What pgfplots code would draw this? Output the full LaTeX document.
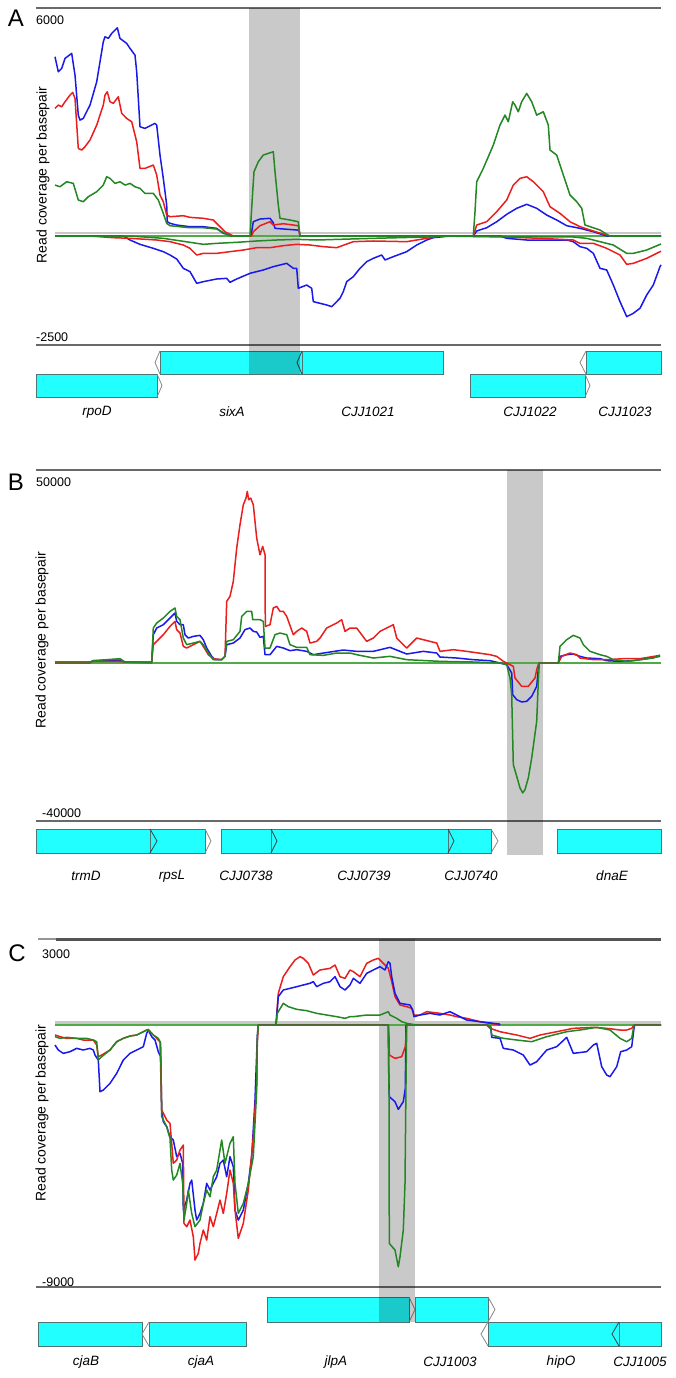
\documentclass[border=0pt]{standalone}
\usepackage{fontspec}
\setmainfont{Liberation Sans}
\usepackage{pgfplots}
\pgfplotsset{compat=1.18}

\definecolor{cblue}{RGB}{25,25,235}
\definecolor{cred}{RGB}{235,30,30}
\definecolor{cgreen}{RGB}{35,135,35}
\definecolor{cbase}{RGB}{80,170,70}
\definecolor{genefill}{RGB}{34,255,255}
\definecolor{geneline}{RGB}{80,115,115}
\definecolor{chevgray}{RGB}{135,135,135}
\definecolor{framegray}{RGB}{105,105,105}
\definecolor{zerogray}{RGB}{200,200,200}

\pgfplotsset{
  base/.style={scale only axis, width=625pt, xmin=36, xmax=661, hide axis, clip=false, anchor=north west},
  trk/.style={base, y dir=reverse},
  gene/.style={fill=genefill, draw=geneline, line width=0.8pt},
  chev/.style={draw=chevgray, line width=0.8pt},
  chevd/.style={draw=geneline!60!black, line width=0.8pt},
  band/.style={fill=black, fill opacity=0.21, draw=none},
  frame/.style={draw=framegray, line width=2.4pt},
  zline/.style={draw=zerogray, line width=2.6pt},
  bline/.style={draw=cbase, line width=1.5pt},
  sb/.style={cblue, line width=1.5pt, line join=round},
  sr/.style={cred, line width=1.5pt, line join=round},
  sg/.style={cgreen, line width=1.5pt, line join=round},
}

\newcommand{\numlab}{\fontsize{12.5}{14}\selectfont}
\newcommand{\genelab}{\fontsize{13.5}{15}\selectfont\itshape}
\newcommand{\ylab}{\fontsize{14}{16}\selectfont}
\newcommand{\panlab}{\fontsize{24}{27}\selectfont}

\begin{document}
\begin{tikzpicture}[x=1pt,y=1pt]
\path[use as bounding box, fill=white] (0pt,0pt) rectangle (675pt,-1378pt);

% ---------------- panel A : track ----------------
\begin{axis}[trk, at={(36pt,-8pt)}, height=390pt, ymin=8, ymax=398]
\addplot[frame] coordinates {(36,8) (661,8)};
\addplot[frame] coordinates {(36,345) (661,345)};
\addplot[gene] coordinates {(36,374) (157,374) (157,397) (36,397)} -- cycle;
\addplot[chev] coordinates {(157,374) (162,385.5) (157,397)};
\addplot[gene] coordinates {(160,351) (302,351) (302,374) (160,374)} -- cycle;
\addplot[chev] coordinates {(160,351) (155,362.5) (160,374)};
\addplot[gene] coordinates {(302,351) (443,351) (443,374) (302,374)} -- cycle;
\addplot[chevd] coordinates {(302,351) (297,362.5) (302,374)};
\addplot[gene] coordinates {(470,374) (585,374) (585,397) (470,397)} -- cycle;
\addplot[chev] coordinates {(585,374) (590,385.5) (585,397)};
\addplot[gene] coordinates {(586,351) (661,351) (661,374) (586,374)} -- cycle;
\addplot[chev] coordinates {(586,351) (580,362.5) (586,374)};
\addplot[band] coordinates {(249,8) (300,8) (300,374) (249,374)} -- cycle;
\end{axis}

% ---------------- panel A : coverage ----------------
\begin{axis}[base, at={(36pt,-8pt)}, height=337pt, ymin=-2868, ymax=6000]
\addplot[zline] coordinates {(55,80) (661,80)};
\addplot[bline] coordinates {(55,0) (661,0)};
% minus strand
\addplot[sb] coordinates {(55,0) (123.3,0) (130,-105) (140,-219) (153.3,-324) (163.3,-412) (170,-500) (176.7,-605) (183.3,-850) (190,-938) (196.7,-1245) (203.3,-1201) (216.7,-1131) (226.7,-1114) (230,-1218) (236.7,-1131) (250,-982) (263.3,-894) (273.3,-806) (286.7,-719) (293.3,-850) (296.7,-850) (298.3,-1376) (306.7,-1289) (311.7,-1376) (313.3,-1727) (320,-1771) (326.7,-1815) (331.7,-1858) (340,-1639) (343.3,-1464) (346.7,-1201) (353.3,-1070) (360,-850) (366.7,-675) (373.3,-587) (381.7,-500) (385,-631) (393.3,-543) (406.7,-412) (416.7,-237) (426.7,-105) (433.3,-44) (450,0) (500,0) (506.7,-61) (526.7,-105) (566.7,-105) (573.3,-149) (580,-280) (586.7,-324) (593.3,-456) (600,-850) (606.7,-894) (613.3,-1289) (620,-1727) (626.7,-2122) (633.3,-2034) (640,-1902) (646.7,-1552) (653.3,-1289) (660,-806) (661,-760)};
\addplot[sr] coordinates {(55,0) (90,0) (113.3,-44) (130,-61) (156.7,-105) (170,-149) (183.3,-237) (190,-324) (196.7,-500) (203.3,-456) (216.7,-456) (230,-412) (243.3,-368) (256.7,-307) (270,-307) (283.3,-254) (296.7,-219) (310,-237) (323.3,-280) (336.7,-307) (353.3,-149) (373.3,-131) (406.7,-149) (426.7,-61) (440,0) (506.7,-26) (540,-61) (573.3,-105) (580,-193) (593.3,-193) (606.7,-324) (613.3,-412) (620,-500) (626.7,-745) (633.3,-719) (646.7,-587) (661,-400)};
\addplot[sg] coordinates {(55,0) (130,0) (163.3,-61) (190,-166) (203.3,-219) (216.7,-193) (236.7,-166) (256.7,-131) (276.7,-105) (296.7,-88) (316.7,-105) (350,-79) (373.3,-61) (426.7,-26) (440,0) (573.3,-26) (586.7,-61) (600,-149) (613.3,-237) (626.7,-456) (633.3,-456) (646.7,-368) (661,-210)};
% plus strand
\addplot[sb] coordinates {(55,4716) (58.3,4321) (61.7,4410) (65,4673) (71.7,4805) (75,4234) (78.3,3182) (80,3051) (83.3,3095) (90,3445) (96.7,4058) (103.3,5110) (105,5242) (108.3,5200) (111.7,5331) (115,5418) (117.3,5479) (120,5200) (126.7,5068) (130,4937) (135,4760) (136.7,4321) (138.3,3621) (140,2875) (145,2832) (155,2964) (156.7,2919) (160,2130) (163.3,1517) (166.7,815) (167.3,376) (170,334) (176.7,289) (190,245) (203.3,245) (216.7,202) (223.3,71) (230,26) (233,0) (251,0) (253.3,376) (260,447) (270,466) (273.3,350) (275,202) (296.7,158) (299,150) (300,0) (473.3,0) (476.7,131) (486.7,218) (496.7,376) (506.7,570) (516.7,729) (526.7,834) (536.7,729) (546.7,552) (556.7,421) (566.7,271) (580,202) (593.3,113) (606.7,0) (661,0)};
\addplot[sr] coordinates {(55,3358) (58.3,3445) (61.7,3401) (65,3533) (70,3708) (72.7,3779) (75,3621) (78.3,2306) (81.7,2262) (85,2349) (90,2525) (96.7,2919) (103.3,3445) (105,3708) (107.3,3795) (110,3533) (113.3,3490) (118.3,3664) (121.7,3227) (126.7,3095) (131.7,3006) (136.7,2480) (140,1780) (145,1780) (153.3,1867) (156.7,1604) (160,1078) (163.3,902) (166.7,552) (170,508) (183.3,534) (190,491) (203.3,466) (213.3,421) (220,245) (225,113) (230,45) (233.3,0) (251.7,0) (253.3,113) (260,271) (270,376) (273.3,289) (283.3,324) (298.3,271) (300,0) (473.3,0) (476.7,289) (486.7,376) (496.7,640) (506.7,947) (513.3,1341) (520,1517) (526.7,1560) (533.3,1428) (543.3,1165) (550,771) (560,596) (570,376) (580,245) (593.3,131) (606.7,26) (610,0) (661,0)};
\addplot[sg] coordinates {(55,1341) (60,1297) (66.7,1428) (73.3,1385) (78.3,947) (83.3,902) (88.3,1034) (96.7,1165) (103.3,1341) (106.7,1560) (110,1517) (115,1385) (120,1428) (125,1341) (130,1385) (135,1297) (140,1253) (145,1122) (153.3,1122) (158.3,947) (163.3,596) (166.7,334) (170,271) (190,218) (203.3,218) (216.7,184) (221.7,113) (226.7,45) (230,0) (250,0) (252.7,1165) (254,1691) (258.3,1954) (263.3,2130) (273.3,2217) (275,1691) (278.3,815) (280,466) (290,421) (298.3,376) (300,0) (473.3,0) (475,640) (476.7,1428) (483.3,1780) (493.3,2393) (500,2919) (505,3182) (508.3,3006) (512.7,3533) (515,3445) (518.3,3269) (521.7,3533) (526.7,3753) (531.7,3533) (536.7,3182) (543.3,3269) (548.3,2919) (550,2262) (556.7,2130) (563.3,1604) (570,1078) (576.7,902) (581.7,729) (585,289) (593.3,218) (600,158) (606.7,45) (610,0) (661,0)};
\end{axis}

% ---------------- panel B : track ----------------
\begin{axis}[trk, at={(36pt,-470pt)}, height=386pt, ymin=470, ymax=856]
\addplot[frame] coordinates {(36,470) (661,470)};
\addplot[frame] coordinates {(36,821) (661,821)};
\addplot[gene] coordinates {(36,829) (150,829) (150,853) (36,853)} -- cycle;
\addplot[gene] coordinates {(150,829) (205,829) (205,853) (150,853)} -- cycle;
\addplot[chevd] coordinates {(150,829) (157,841) (150,853)};
\addplot[chev] coordinates {(205,829) (211,841) (205,853)};
\addplot[gene] coordinates {(221,829) (271,829) (271,853) (221,853)} -- cycle;
\addplot[gene] coordinates {(271,829) (448,829) (448,853) (271,853)} -- cycle;
\addplot[chevd] coordinates {(271,829) (277,841) (271,853)};
\addplot[gene] coordinates {(448,829) (491,829) (491,853) (448,853)} -- cycle;
\addplot[chevd] coordinates {(448,829) (454,841) (448,853)};
\addplot[chev] coordinates {(491,829) (498,841) (491,853)};
\addplot[gene] coordinates {(557,829) (661,829) (661,853) (557,853)} -- cycle;
\addplot[band] coordinates {(507,470) (543,470) (543,855) (507,855)} -- cycle;
\end{axis}

% ---------------- panel B : coverage ----------------
\begin{axis}[base, at={(36pt,-470pt)}, height=351pt, ymin=-40930, ymax=50000]
\addplot[bline] coordinates {(55,0) (661,0)};
\addplot[sb] coordinates {(55,260) (90,260) (93.3,604) (120,777) (125,259) (151.7,259) (153.3,7336) (156.7,9062) (163.3,9925) (170,11651) (175,12945) (176.7,10788) (180,9925) (183.3,9925) (185,7336) (188.3,6473) (193.3,6904) (200,7163) (203.3,6041) (206.7,3884) (211.7,1726) (215,863) (221.7,863) (225,1726) (226.7,4747) (233.3,5178) (240,6473) (245,8630) (250,9062) (253.3,8199) (256.7,8026) (260,6645) (263.3,6904) (265,2158) (270,2158) (276.7,4315) (283.3,3884) (290,3193) (296.7,3452) (306.7,3021) (313.3,2158) (330,2848) (343.3,3366) (356.7,3021) (373.3,3021) (390,4056) (406.7,2330) (423.3,3021) (436.7,2589) (440,1553) (456.7,1295) (473.3,863) (490,604) (500,0) (506.7,-432) (511.7,-2589) (512.7,-8199) (516.7,-9493) (521.7,-10097) (526.7,-9925) (531.7,-8630) (536.7,-6041) (538.7,-432) (539.3,0) (558.3,0) (560,1726) (566.7,2158) (573.3,2330) (580,1726) (586.7,1295) (600,1122) (606.7,604) (620,432) (633.3,604) (646.7,1122) (660,1726)};
\addplot[sr] coordinates {(55,259) (90,259) (93.3,432) (120,432) (125,259) (151.7,259) (153.3,4747) (156.7,5610) (163.3,7336) (170,9493) (175,10788) (176.7,8630) (180,7767) (183.3,4315) (186.7,3884) (193.3,4747) (200,5610) (203.3,4315) (208.3,2158) (213.3,1122) (221.7,863) (225,1726) (226.7,15966) (230,17260) (233.3,21144) (236.7,29774) (240,35815) (243.3,40993) (246,42719) (247.3,44445) (248.7,42287) (250.7,42719) (253.3,40993) (256.7,32363) (260,28048) (262.7,30205) (265,28048) (265.3,9493) (270,9925) (273.3,14240) (276.7,14671) (280,13377) (283.3,13377) (286.7,12082) (293.3,7336) (296.7,8199) (301.7,9062) (306.7,8199) (310,5178) (316.7,5610) (320,6473) (326.7,9062) (336.7,10356) (341.7,11219) (345,8199) (350,9062) (356.7,9062) (366.7,5610) (373.3,6473) (380,8199) (390,9493) (393.3,9925) (396.7,6473) (406.7,3884) (416.7,6473) (423.3,6041) (436.7,5178) (440,3021) (453.3,3452) (466.7,3021) (490,2158) (496.7,1726) (503.3,432) (513.3,-863) (515,-3884) (521.7,-6041) (528.3,-6041) (535,-3884) (536.7,-1726) (538.3,-432) (539.3,0) (558.3,0) (561.7,1726) (570,2589) (576.7,2158) (580,1295) (593.3,863) (606.7,863) (623.3,1122) (640,1122) (660,1985)};
\addplot[sg] coordinates {(55,0) (90,0) (93.3,604) (120,1122) (125,259) (151.7,0) (153.3,9062) (156.7,10356) (163.3,11651) (170,13377) (175,14240) (176.7,12082) (180,11219) (183.3,6473) (186.7,4747) (193.3,5178) (200,5610) (203.3,4747) (208.3,2589) (213.3,863) (221.7,863) (225,1726) (226.7,5610) (233.3,6041) (240,8199) (241.7,12082) (246.7,13377) (251.7,13377) (252.7,11219) (260,11219) (263.3,10788) (265,3884) (270,3884) (275,7336) (280,7767) (286.7,7336) (290,4747) (296.7,4056) (306.7,4056) (310,2158) (323.3,1985) (336.7,2589) (350,2589) (356.7,2158) (373.3,1295) (390,1726) (406.7,863) (440,432) (473.3,259) (500,0) (506.7,-432) (510,-3884) (511.7,-8199) (513.3,-26322) (516.7,-29343) (520,-32363) (522.7,-33657) (525,-32794) (528.3,-29774) (531.7,-24596) (536.7,-15103) (538.3,-4747) (539.3,0) (558.3,0) (560,4315) (566.7,6041) (573.3,7163) (580,6473) (583.3,4747) (590,3021) (600,2158) (606.7,1726) (613.3,863) (626.7,432) (640,863) (653.3,1295) (660,1985)};
\end{axis}

% ---------------- panel C : track ----------------
\begin{axis}[trk, at={(36pt,-939pt)}, height=407pt, ymin=939, ymax=1346]
\addplot[frame, line width=2.4pt, draw=framegray!70] coordinates {(38,939) (56,939)};
\addplot[frame, line width=3pt, draw=framegray!80!black] coordinates {(56,939) (661,939)};
\addplot[frame] coordinates {(36,1287) (661,1287)};
\addplot[gene] coordinates {(267,1297) (409,1297) (409,1322) (267,1322)} -- cycle;
\addplot[chev] coordinates {(409,1297) (415,1309.5) (409,1322)};
\addplot[gene] coordinates {(415,1297) (488,1297) (488,1322) (415,1322)} -- cycle;
\addplot[chev] coordinates {(488,1297) (495,1309.5) (488,1322)};
\addplot[gene] coordinates {(38,1322) (142,1322) (142,1346) (38,1346)} -- cycle;
\addplot[gene] coordinates {(149,1322) (246,1322) (246,1346) (149,1346)} -- cycle;
\addplot[chev] coordinates {(149,1322) (142,1334) (149,1346)};
\addplot[gene] coordinates {(488,1322) (619,1322) (619,1346) (488,1346)} -- cycle;
\addplot[chev] coordinates {(488,1322) (481,1334) (488,1346)};
\addplot[gene] coordinates {(619,1322) (661,1322) (661,1346) (619,1346)} -- cycle;
\addplot[chevd] coordinates {(619,1322) (612,1334) (619,1346)};
\addplot[band] coordinates {(379,939) (415,939) (415,1322) (379,1322)} -- cycle;
\end{axis}

% ---------------- panel C : coverage ----------------
\begin{axis}[base, at={(36pt,-939pt)}, height=349pt, ymin=-9174, ymax=3000]
\addplot[zline] coordinates {(55,87) (661,87)};
\addplot[bline] coordinates {(55,0) (661,0)};
% minus strand
\addplot[sb] coordinates {(55,-698) (58.3,-872) (63.3,-989) (70,-930) (76.7,-814) (83.3,-872) (90,-814) (93.3,-872) (95,-1047) (98.3,-1221) (100,-2326) (103.3,-2268) (110,-2035) (116.7,-1686) (123.3,-1221) (130,-989) (136.7,-872) (143.3,-756) (146.7,-291) (148.3,-174) (151.7,-407) (155,-523) (158.3,-930) (160.7,-1105) (161.7,-2966) (163.3,-3373) (166.7,-3547) (170,-3896) (173.3,-4012) (176.7,-4594) (180,-4478) (182.7,-4826) (183.3,-6455) (186.7,-6106) (190,-5524) (191.7,-5408) (195,-6455) (196.7,-6804) (200,-6571) (203.3,-6222) (206.7,-5524) (210,-5757) (213.3,-5524) (216.7,-5292) (220,-4826) (223.3,-4710) (226.7,-5292) (230,-4594) (233.3,-4943) (235,-6455) (238.3,-6804) (243.3,-6455) (248.3,-5524) (251.7,-4594) (255,-2617) (257.3,-407) (258.3,0) (388.3,0) (388.7,-1628) (389.3,-2500) (395,-2675) (398.3,-2942) (403.3,-2675) (405.3,-2210) (406,0) (486.7,0) (490.7,-58) (491.7,-430) (500,-465) (503.3,-814) (513.3,-872) (523.3,-1047) (530,-1396) (536.7,-1279) (546.7,-872) (556.7,-756) (566.7,-430) (573.3,-989) (586.7,-930) (593.3,-698) (596.7,-640) (601.7,-1454) (606.7,-1745) (610,-1803) (616.7,-1454) (620.7,-930) (626.7,-872) (631.7,-756) (634,-116) (634.7,0) (661,0)};
\addplot[sr] coordinates {(55,-349) (60,-407) (66.7,-465) (76.7,-465) (83.3,-523) (93.3,-523) (96.7,-698) (98.3,-1105) (101.7,-1047) (110,-872) (116.7,-582) (123.3,-465) (130,-384) (136.7,-349) (143.3,-233) (146.7,-174) (150,-233) (155,-407) (160,-582) (161.7,-2966) (166.7,-3315) (170,-3431) (171.7,-4129) (173.3,-4826) (176.7,-4710) (180,-4361) (183.3,-4187) (184,-6920) (186.7,-7036) (190,-6804) (193.3,-7385) (195,-8199) (198.3,-7967) (200,-7618) (203.3,-7152) (206.7,-7501) (210,-6687) (213.3,-7036) (216.7,-6571) (220,-6106) (223.3,-6571) (226.7,-5873) (230,-5059) (233.3,-5524) (235,-6455) (238.3,-7443) (243.3,-6920) (248.3,-5757) (253.3,-3896) (256.7,-2035) (257.3,-640) (258.3,0) (388.3,0) (389,-407) (389.3,-1047) (395,-1163) (401.7,-1105) (405.3,-756) (406.7,0) (486.7,0) (490,-116) (500,-233) (516.7,-349) (530,-465) (540,-349) (556.7,-233) (573.3,-116) (593.3,-81) (606.7,-116) (620,-174) (626.7,-174) (631.7,-116) (634,0) (661,0)};
\addplot[sg] coordinates {(55,-407) (60,-465) (66.7,-430) (76.7,-465) (86.7,-465) (93.3,-523) (96.7,-582) (98.3,-1221) (101.7,-1105) (110,-872) (116.7,-582) (123.3,-465) (130,-384) (136.7,-349) (143.3,-233) (148.3,-151) (153.3,-349) (158.3,-465) (160.7,-640) (161.7,-3198) (166.7,-3547) (170,-3954) (171.7,-5059) (173.3,-5408) (176.7,-5234) (180,-4826) (182.7,-5524) (184,-6804) (186.7,-6222) (188.3,-5757) (191.7,-6571) (195,-7036) (200,-6804) (203.3,-6222) (206.7,-5757) (210,-5990) (213.3,-5292) (216.7,-5059) (220,-4361) (221.7,-4012) (225,-4826) (230,-4129) (233.3,-3896) (235,-5524) (238.3,-6571) (243.3,-6222) (248.3,-5524) (253.3,-4594) (256.7,-2268) (257.3,-407) (258.3,0) (388.3,0) (389,-2268) (389.3,-7618) (395,-7850) (398.3,-8432) (400,-8083) (403.3,-7152) (405,-5524) (406,-2035) (406.7,0) (486.7,0) (490.7,-58) (491.7,-349) (503.3,-465) (516.7,-523) (531.7,-582) (546.7,-407) (566.7,-233) (580,-174) (596.7,-81) (610,-174) (620,-465) (626.7,-582) (631.7,-465) (634,0) (661,0)};
% plus strand
\addplot[sr] coordinates {(276,0) (278.3,1105) (283.3,1686) (290,2035) (295,2268) (300,2384) (303.3,2326) (308.3,2152) (313.3,1745) (320,1919) (330,1977) (335,2093) (340,1686) (345,1628) (350,1919) (353.3,1861) (360,1686) (366.7,2152) (373.3,2268) (378.3,2326) (383.3,2152) (388.3,1977) (391.7,1512) (395,989) (400,698) (406.7,640) (411.7,582) (414,349) (420,349) (426.7,465) (440,407) (450,349) (456.7,291) (466.7,233) (480,116) (490,58) (500,0)};
\addplot[sb] coordinates {(276,0) (278.3,989) (283.3,1221) (290,1279) (296.7,1337) (303.3,1396) (310,1454) (313.3,1512) (316.7,1337) (323.3,1454) (330,1512) (335,1686) (340,1337) (345,1221) (350,1396) (353.3,1628) (360,1454) (366.7,1803) (373.3,1919) (380,2035) (385,1919) (388.3,2210) (390,2152) (391.7,1686) (395,1105) (400,756) (410,698) (412.7,523) (414,291) (420,349) (430,407) (440,349) (450,465) (456.7,349) (466.7,174) (480,116) (493.3,58) (499.3,35) (500,0)};
\addplot[sg] coordinates {(276,0) (277.3,407) (283.3,756) (288.3,640) (296.7,547) (306.7,500) (316.7,407) (326.7,349) (336.7,291) (345,233) (350,291) (353.3,291) (366.7,349) (380,349) (388.3,465) (390,349) (396.7,233) (401.7,116) (406.7,58) (416.7,0)};
\end{axis}

% ---------------- text ----------------
\node[anchor=center, inner sep=0] at (16pt,-18pt) {\panlab A};
\node[anchor=center, inner sep=0] at (16pt,-482pt) {\panlab B};
\node[anchor=center, inner sep=0] at (17pt,-953pt) {\panlab C};

\node[anchor=west, inner sep=0] at (36pt,-20pt) {\numlab 6000};
\node[anchor=west, inner sep=0] at (36pt,-337pt) {\numlab -2500};
\node[anchor=west, inner sep=0] at (36pt,-482pt) {\numlab 50000};
\node[anchor=west, inner sep=0] at (42pt,-813pt) {\numlab -40000};
\node[anchor=west, inner sep=0] at (42pt,-954pt) {\numlab 3000};
\node[anchor=west, inner sep=0] at (42pt,-1282pt) {\numlab -9000};

\node[rotate=90, inner sep=0] at (43pt,-175pt) {\ylab Read coverage per basepair};
\node[rotate=90, inner sep=0] at (42pt,-640pt) {\ylab Read coverage per basepair};
\node[rotate=90, inner sep=0] at (42pt,-1113pt) {\ylab Read coverage per basepair};

\node[inner sep=0] at (97pt,-412pt) {\genelab rpoD};
\node[inner sep=0] at (232pt,-412pt) {\genelab sixA};
\node[inner sep=0] at (368pt,-412pt) {\genelab CJJ1021};
\node[inner sep=0] at (530pt,-412pt) {\genelab CJJ1022};
\node[inner sep=0] at (625pt,-412pt) {\genelab CJJ1023};

\node[inner sep=0] at (86pt,-876pt) {\genelab trmD};
\node[inner sep=0] at (172pt,-876pt) {\genelab rpsL};
\node[inner sep=0] at (246pt,-876pt) {\genelab CJJ0738};
\node[inner sep=0] at (364pt,-876pt) {\genelab CJJ0739};
\node[inner sep=0] at (471pt,-876pt) {\genelab CJJ0740};
\node[inner sep=0] at (612pt,-876pt) {\genelab dnaE};

\node[inner sep=0] at (86pt,-1362pt) {\genelab cjaB};
\node[inner sep=0] at (201pt,-1362pt) {\genelab cjaA};
\node[inner sep=0] at (336pt,-1362pt) {\genelab jlpA};
\node[inner sep=0] at (450pt,-1362pt) {\genelab CJJ1003};
\node[inner sep=0] at (561pt,-1362pt) {\genelab hipO};
\node[inner sep=0] at (640pt,-1362pt) {\genelab CJJ1005};
\end{tikzpicture}
\end{document}
